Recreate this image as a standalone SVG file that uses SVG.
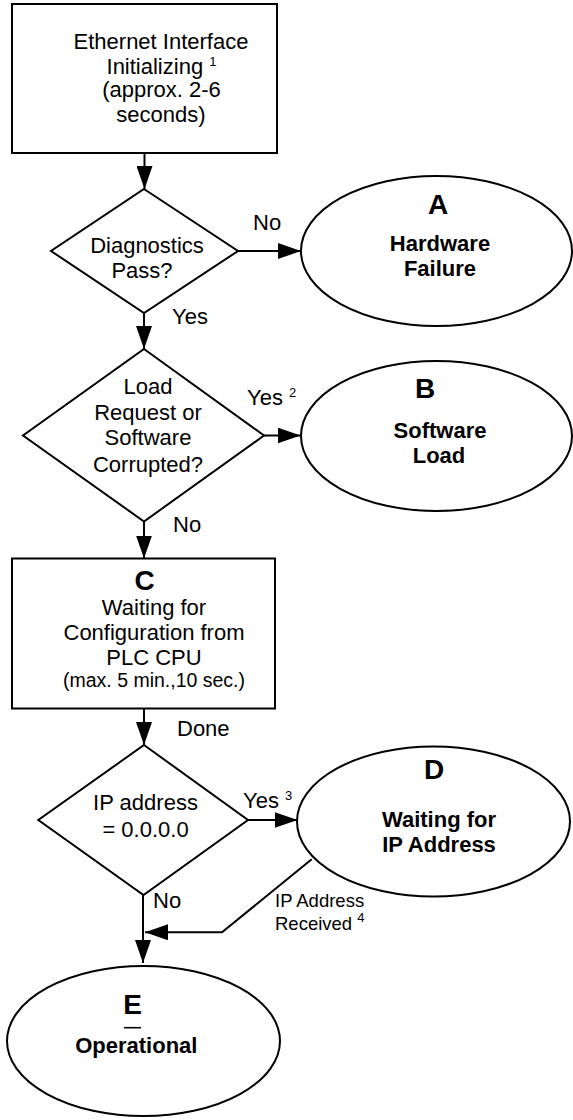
<svg xmlns="http://www.w3.org/2000/svg" width="573" height="1120" viewBox="0 0 573 1120">
<defs>
<marker id="arr" markerUnits="userSpaceOnUse" markerWidth="23" markerHeight="16" refX="23" refY="8" orient="auto">
<path d="M0,0 L23,8 L0,16 Z" fill="#000"/>
</marker>
<style>
.shape{fill:#fff;stroke:#000;stroke-width:2}
.conn{fill:none;stroke:#000;stroke-width:2;marker-end:url(#arr)}
text{font-family:"Liberation Sans",Arial,sans-serif;fill:#000}
.t{font-size:22px;text-anchor:middle}
.l{font-size:22px}
.b{font-size:22px;font-weight:bold;text-anchor:middle}
.big{font-size:28px;font-weight:bold;text-anchor:middle}
.s{font-size:19.5px;text-anchor:middle}
.sm{font-size:18.5px}
.sup{font-size:13px}
</style>
</defs>
<rect width="573" height="1120" fill="#fff"/>
<g id="connectors">
<line class="conn" x1="144.5" y1="153" x2="144.5" y2="189"/>
<line class="conn" x1="238" y1="251" x2="301" y2="251"/>
<line class="conn" x1="144" y1="313" x2="144" y2="349"/>
<line class="conn" x1="264" y1="435.5" x2="300.5" y2="435.5"/>
<line class="conn" x1="144" y1="521.5" x2="144" y2="558.5"/>
<line class="conn" x1="144" y1="708.5" x2="144" y2="745"/>
<line class="conn" x1="248" y1="820" x2="297.5" y2="820"/>
<polyline class="conn" points="311.7,859.3 222,932.3 145,932.3"/>
<line class="conn" x1="143" y1="895" x2="143" y2="963"/>
<text class="l" x="253" y="230">No</text>
<text class="l" x="172" y="324">Yes</text>
<text class="l" x="247" y="405">Yes <tspan class="sup" dy="-8">2</tspan></text>
<text class="l" x="173" y="531.5">No</text>
<text class="l" x="177" y="736">Done</text>
<text class="l" x="243" y="808">Yes <tspan class="sup" dy="-8">3</tspan></text>
<text class="l" x="153" y="908">No</text>
<text class="sm" x="275" y="906.5">IP Address</text>
<text class="sm" x="275" y="930">Received <tspan class="sup" dy="-8">4</tspan></text>
</g>
<g id="init">
<rect class="shape" x="12" y="4" width="265" height="149"/>
<text class="t" x="161" y="48.5">Ethernet Interface</text>
<text class="t" x="161.5" y="74">Initializing <tspan class="sup" dy="-8">1</tspan></text>
<text class="t" x="161.5" y="97">(approx. 2-6</text>
<text class="t" x="161" y="122">seconds)</text>
</g>
<g id="diag">
<polygon class="shape" points="144,189 238,251 144,313 51,251"/>
<text class="t" x="147" y="253">Diagnostics</text>
<text class="t" x="142" y="278">Pass?</text>
</g>
<g id="nodeA">
<ellipse class="shape" cx="436.5" cy="251" rx="135.5" ry="75"/>
<text class="big" x="438" y="214">A</text>
<text class="b" x="440" y="251">Hardware</text>
<text class="b" x="440" y="276">Failure</text>
</g>
<g id="load">
<polygon class="shape" points="144,349 264,435.5 144,521.5 23,435.5"/>
<text class="t" x="148" y="394">Load</text>
<text class="t" x="148" y="420">Request or</text>
<text class="t" x="148" y="445">Software</text>
<text class="t" x="148" y="471.5">Corrupted?</text>
</g>
<g id="nodeB">
<ellipse class="shape" cx="436.5" cy="436" rx="135.5" ry="75"/>
<text class="big" x="425" y="398">B</text>
<text class="b" x="440" y="438">Software</text>
<text class="b" x="439" y="462.5">Load</text>
</g>
<g id="nodeC">
<rect class="shape" x="12" y="558.5" width="263" height="150"/>
<text class="big" x="144.5" y="590">C</text>
<text class="t" x="154" y="615">Waiting for</text>
<text class="t" x="154" y="639.5">Configuration from</text>
<text class="t" x="154" y="665">PLC CPU</text>
<text class="s" x="154" y="686.5">(max. 5 min.,10 sec.)</text>
</g>
<g id="ipcheck">
<polygon class="shape" points="144,745 248,820 143.5,895 38.3,820"/>
<text class="t" x="145.5" y="810">IP address</text>
<text class="t" x="145.5" y="836.5">= 0.0.0.0</text>
</g>
<g id="nodeD">
<ellipse class="shape" cx="433.5" cy="821.5" rx="136.5" ry="75"/>
<text class="big" x="434" y="778.5">D</text>
<text class="b" x="439" y="826.5">Waiting for</text>
<text class="b" x="439" y="851.5">IP Address</text>
</g>
<g id="nodeE">
<ellipse class="shape" cx="143.5" cy="1041" rx="136.5" ry="75"/>
<text class="big" x="132.5" y="1013.5">E</text>
<line x1="124" y1="1027.7" x2="141" y2="1027.7" stroke="#000" stroke-width="1.6"/>
<text class="b" x="136.3" y="1053">Operational</text>
</g>
</svg>
